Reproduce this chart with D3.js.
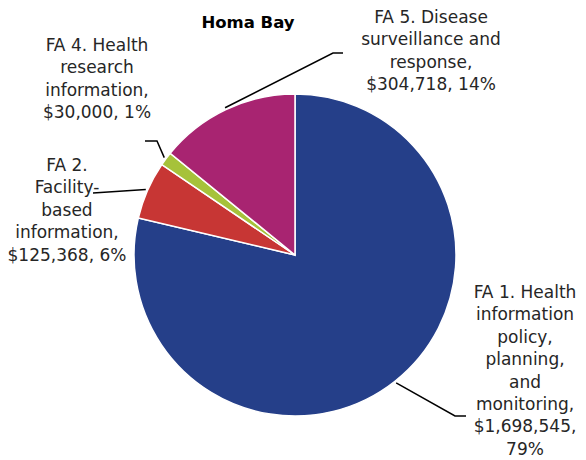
<!DOCTYPE html>
<html>
<head>
<meta charset="utf-8">
<script src="https://cdn.jsdelivr.net/npm/d3@7"></script>
<style>
  body { margin: 0; background: #fff; }
  text { font-family: "DejaVu Sans", sans-serif; }
</style>
</head>
<body>
<script>
const categories = [
    "FA 1. Health information policy, planning, and monitoring",
    "FA 2. Facility-based information",
    "FA 4. Health research information",
    "FA 5. Disease surveillance and response"
];
const amounts = [1698545, 125368, 30000, 304718];
const colours = ["#253f89", "#c73634", "#a6c23a", "#a82471"];

// label wrapping, as in the original
const labelLines = [
    ["FA 1. Health", "information", "policy,", "planning,", "and", "monitoring,", "$1,698,545,", "79%"],
    ["FA 2.", "Facility-", "based", "information,", "$125,368, 6%"],
    ["FA 4. Health", "research", "information,", "$30,000, 1%"],
    ["FA 5. Disease", "surveillance and", "response,", "$304,718, 14%"]
];

const width = 586, height = 460;
const cx = 295, cy = 255, radius = 161;
const lineH = 22.4;

// label centre (x, first baseline) and leader bends
const layout = [
    {x: 525, y: 298, bend: [[455, 416], [466, 416]]},
    {x: 67, y: 171, bend: [[93, 193]]},
    {x: 97, y: 51, bend: [[157, 141], [145, 141]]},
    {x: 431, y: 23, bend: [[333, 53], [343, 53]]}
];

const data = categories.map((c, i) => ({name: c, value: amounts[i], colour: colours[i], lines: labelLines[i], pos: layout[i]}));

const svg = d3.select("body")
    .append("svg")
    .attr("width", width)
    .attr("height", height);

svg.append("text")
    .attr("x", 248)
    .attr("y", 28)
    .attr("text-anchor", "middle")
    .attr("font-size", 16.5)
    .attr("font-weight", "bold")
    .text("Homa Bay");

const pie = d3.pie().sort(null).value(d => d.value);
const arcs = pie(data);
const arc = d3.arc().innerRadius(0).outerRadius(radius);

const g = svg.append("g").attr("transform", `translate(${cx}, ${cy})`);

g.selectAll("path")
    .data(arcs)
    .enter()
    .append("path")
    .attr("d", arc)
    .attr("fill", d => d.data.colour)
    .attr("stroke", "#fff")
    .attr("stroke-width", 1.5);

// leader lines start just outside the slice, at its mid angle
svg.selectAll("polyline")
    .data(arcs)
    .enter()
    .append("polyline")
    .attr("points", d => {
        const a = (d.startAngle + d.endAngle) / 2;
        const r = radius + 2;
        const start = [cx + r * Math.sin(a), cy - r * Math.cos(a)];
        return [start, ...d.data.pos.bend].map(p => p.join(",")).join(" ");
    })
    .attr("fill", "none")
    .attr("stroke", "#000")
    .attr("stroke-width", 1.5);

const labels = svg.selectAll("text.label")
    .data(data)
    .enter()
    .append("text")
    .classed("label", true)
    .attr("text-anchor", "middle")
    .attr("font-size", 17)
    .attr("fill", "#262626");

labels.selectAll("tspan")
    .data(d => d.lines.map((t, i) => ({t, i, pos: d.pos})))
    .enter()
    .append("tspan")
    .attr("x", d => d.pos.x)
    .attr("y", d => d.pos.y + d.i * lineH)
    .text(d => d.t);
</script>
</body>
</html>
